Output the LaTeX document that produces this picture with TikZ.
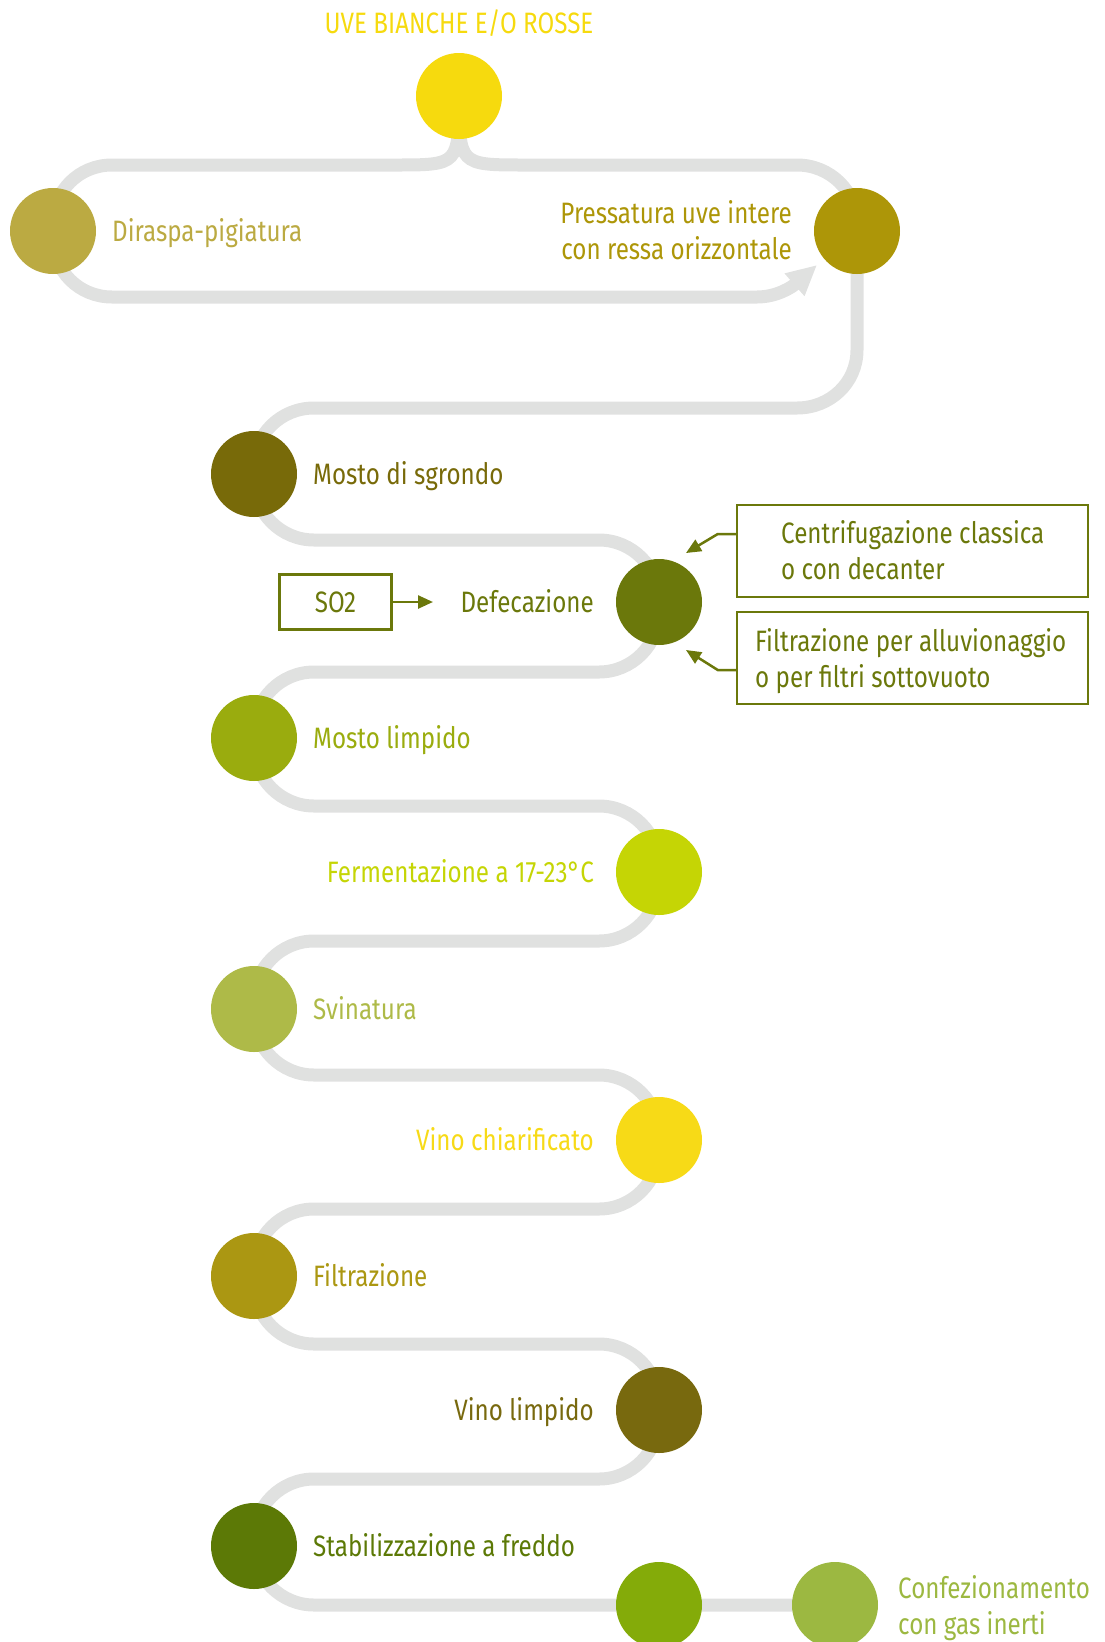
\documentclass[tikz,border=0pt]{standalone}
\usepackage{fontspec}
\setmainfont{Fira Sans}[FakeStretch=0.82]
\usetikzlibrary{arrows.meta,backgrounds}
\definecolor{trackgray}{HTML}{E0E1E0}
\definecolor{cA}{HTML}{F6DA0E}
\definecolor{cB}{HTML}{BBAA42}
\definecolor{cC}{HTML}{AD9608}
\definecolor{cD}{HTML}{786A09}
\definecolor{cE}{HTML}{6B780B}
\definecolor{cF}{HTML}{9AAC0E}
\definecolor{cG}{HTML}{C5D505}
\definecolor{cH}{HTML}{AEBA48}
\definecolor{cI}{HTML}{F7DA17}
\definecolor{cJ}{HTML}{AB9712}
\definecolor{cK}{HTML}{78690E}
\definecolor{cL}{HTML}{5C7906}
\definecolor{cM}{HTML}{84AB09}
\definecolor{cN}{HTML}{9CB841}
\begin{document}
\begin{tikzpicture}[x=1pt,y=-1pt,
  track/.style={draw=trackgray, line width=13pt},
  dot/.style={circle, minimum size=86pt, inner sep=0pt},
  lbl/.style={font=\fontsize{29.5}{36}\selectfont, inner sep=0pt},
  lw/.style={lbl, anchor=base west, align=left},
  le/.style={lbl, anchor=base east, align=right},
  boxed/.style={draw=cE, line width=2.5pt, minimum width=351pt, minimum height=92pt, inner sep=0pt},
  boxarrow/.style={draw=cE, line width=2.5pt, -{Triangle[length=15pt,width=13pt]}}
]
\useasboundingbox (0,0) rectangle (1104,1642);
% circles
\node[dot, fill=cA] (c0) at (459,96) {};
\node[dot, fill=cB] (c1) at (53,231) {};
\node[dot, fill=cC] (c2) at (857,231) {};
\node[dot, fill=cD] (c3) at (254,474) {};
\node[dot, fill=cE] (c4) at (659,602) {};
\node[dot, fill=cF] (c5) at (254,738) {};
\node[dot, fill=cG] (c6) at (659,872) {};
\node[dot, fill=cH] (c7) at (254,1009) {};
\node[dot, fill=cI] (c8) at (659,1140) {};
\node[dot, fill=cJ] (c9) at (254,1276) {};
\node[dot, fill=cK] (c10) at (659,1410) {};
\node[dot, fill=cL] (c11) at (254,1546) {};
\node[dot, fill=cM] (c12) at (659,1605) {};
\node[dot, fill=cN] (c13) at (835,1605) {};
\coordinate (tip) at (817,265);
% track
\begin{pgfonlayer}{background}
\draw[track] (c0.center) .. controls (459,165) .. (395,165) -- (112,165) .. controls (79,165) and (53,191) .. (53,224) -- (c1.center);
\draw[track] (c0.center) .. controls (459,165) .. (525,165) -- (797,165) .. controls (830,165) and (857,191) .. (857,224) -- (c2.center);
\draw[track, -{Triangle[length=30pt,width=28pt]}] (c1.center) -- (53,238) .. controls (53,271) and (79,297) .. (112,297) -- (757,297) .. controls (777,297) and (792,287) .. (tip);
\draw[track] (c2.center) -- (857,350) .. controls (857,383) and (830,408) .. (797,408) -- (314,408) .. controls (281,408) and (254,434) .. (254,467) -- (c3.center);
\draw[track] (c3.center) -- (254,480) .. controls (254,513) and (281,540) .. (314,540) -- (599,540) .. controls (632,540) and (659,567) .. (659,600) -- (c4.center);
\draw[track] (c4.center) -- (659,612) .. controls (659,645) and (632,672) .. (599,672) -- (314,672) .. controls (281,672) and (254,699) .. (254,732) -- (c5.center);
\draw[track] (c5.center) -- (254,746) .. controls (254,779) and (281,806) .. (314,806) -- (599,806) .. controls (632,806) and (659,833) .. (659,866) -- (c6.center);
\draw[track] (c6.center) -- (659,881) .. controls (659,914) and (632,941) .. (599,941) -- (314,941) .. controls (281,941) and (254,968) .. (254,1001) -- (c7.center);
\draw[track] (c7.center) -- (254,1015) .. controls (254,1048) and (281,1075) .. (314,1075) -- (599,1075) .. controls (632,1075) and (659,1102) .. (659,1135) -- (c8.center);
\draw[track] (c8.center) -- (659,1149) .. controls (659,1182) and (632,1209) .. (599,1209) -- (314,1209) .. controls (281,1209) and (254,1236) .. (254,1269) -- (c9.center);
\draw[track] (c9.center) -- (254,1284) .. controls (254,1317) and (281,1344) .. (314,1344) -- (599,1344) .. controls (632,1344) and (659,1371) .. (659,1404) -- (c10.center);
\draw[track] (c10.center) -- (659,1419) .. controls (659,1452) and (632,1479) .. (599,1479) -- (314,1479) .. controls (281,1479) and (254,1506) .. (254,1539) -- (c11.center);
\draw[track] (c11.center) .. controls (254,1578) and (281,1605) .. (314,1605) -- (c12.center) -- (c13.center);
\end{pgfonlayer}
% labels
\node[lbl, anchor=base, text=cA] (t0) at (459,33) {UVE BIANCHE E/O ROSSE};
\node[lw, text=cB] (t1) at (112,241) {Diraspa-pigiatura};
\node[le, text=cC] (t2) at (792,259) {Pressatura uve intere\\con ressa orizzontale};
\node[lw, text=cD] (t3) at (313,484) {Mosto di sgrondo};
\node[le, text=cE] (t4) at (594,612) {Defecazione};
\node[lw, text=cF] (t5) at (313,748) {Mosto limpido};
\node[le, text=cG] (t6) at (594,882) {Fermentazione a 17-23°C};
\node[lw, text=cH] (t7) at (313,1019) {Svinatura};
\node[le, text=cI] (t8) at (594,1150) {Vino chiarificato};
\node[lw, text=cJ] (t9) at (313,1286) {Filtrazione};
\node[le, text=cK] (t10) at (594,1420) {Vino limpido};
\node[lw, text=cL] (t11) at (313,1556) {Stabilizzazione a freddo};
\node[lw, text=cN] (t12) at (898,1634) {Confezionamento\\con gas inerti};
% boxes
\node[boxed] (b1) at (912.5,551) {};
\node[boxed] (b2) at (912.5,658) {};
\node[boxed, minimum width=112pt, minimum height=55pt] (so2) at (335.5,602) {};
\node[lw, text=cE] (bt1) at (781,579) {Centrifugazione classica\\o con decanter};
\node[lw, text=cE] (bt2) at (755,687) {Filtrazione per alluvionaggio\\o per filtri sottovuoto};
\node[lbl, anchor=base, text=cE] (st) at (so2.center) [yshift=-10pt] {SO2};
\coordinate (a1) at (686,553);
\coordinate (a2) at (686,650);
\coordinate (a3) at (433,602);
\draw[boxarrow] ([yshift=17pt]b1.west) -- ++(-18,0) -- (a1);
\draw[boxarrow] ([yshift=-12pt]b2.west) -- ++(-18,0) -- (a2);
\draw[boxarrow] (so2.east) -- (a3);
\end{tikzpicture}
\end{document}
